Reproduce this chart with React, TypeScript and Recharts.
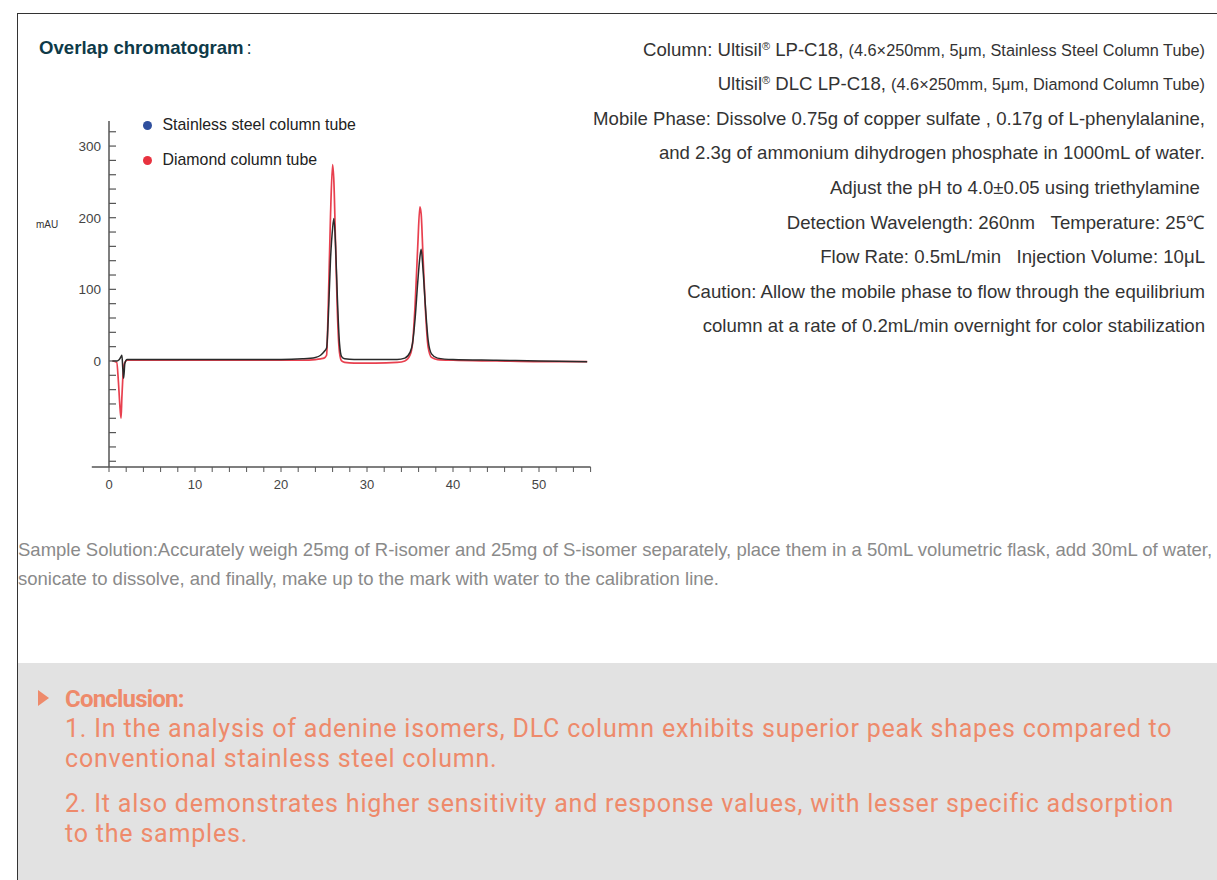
import { Legend, Line, LineChart, ReferenceLine, XAxis, YAxis } from "recharts";

const time = [
  0.4, 0.9, 1.1, 1.25, 1.4, 1.5, 1.6, 1.7, 1.85, 2.1, 3, 6, 10, 15, 20, 22.5, 24, 24.6, 25.0, 25.3,
  25.5, 25.75, 26.0, 26.15, 26.35, 26.55, 26.8, 27.05, 27.4, 28.5, 31, 33.5, 34.4, 35.0, 35.3, 35.6,
  35.9, 36.15, 36.3, 36.5, 36.8, 37.1, 37.5, 38.2, 40, 45, 50, 55.6,
];
const steel = [
  0, 0, 1, 3, 6, 8, -10, -24, -3, 2, 2, 2, 2, 2, 2, 3, 5, 8, 13, 18, 60, 140, 185, 199, 160, 90, 25,
  6, 3, 2, 2, 2, 4, 12, 25, 60, 110, 145, 156, 130, 75, 30, 10, 4, 2, 1, 0, -1,
];
const diamond = [
  0, -2, -30, -60, -80, -50, -25, -8, -2, 1, 1, 1, 1, 1, 1, 1, 2, 3, 4, 8, 80, 200, 274, 250, 160,
  70, 12, 0, -2, -3, -3, -2, 0, 8, 25, 80, 160, 215, 205, 150, 70, 20, 5, 2, 1, 0, -1, -1,
];

const xTicks = [0, 2, 4, 6, 8, 10, 12, 14, 16, 18, 20, 22, 24, 26, 28, 30, 32, 34, 36, 38, 40, 42, 44, 46, 48, 50, 52, 54, 56];
const xLabels = [0, 10, 20, 30, 40, 50];
const yTicks = [-140, -120, -100, -80, -60, -40, -20, 0, 20, 40, 60, 80, 100, 120, 140, 160, 180, 200, 220, 240, 260, 280, 300, 320];
const yLabels = [0, 100, 200, 300];

const legendItems = [
  { name: "Stainless steel column tube", color: "#2f4f9e" },
  { name: "Diamond column tube", color: "#e8323f" },
];

const rightLines = [
  "Mobile Phase: Dissolve 0.75g of copper sulfate , 0.17g of L-phenylalanine,",
  "and 2.3g of ammonium dihydrogen phosphate in 1000mL of water.",
  "Adjust the pH to 4.0±0.05 using triethylamine\u00a0",
  "Detection Wavelength: 260nm\u00a0\u00a0\u00a0Temperature: 25℃",
  "Flow Rate: 0.5mL/min\u00a0\u00a0\u00a0Injection Volume: 10μL",
  "Caution: Allow the mobile phase to flow through the equilibrium",
  "column at a rate of 0.2mL/min overnight for color stabilization",
];

const data = time.map((t, i) => ({ t, steel: steel[i], diamond: diamond[i] }));

const SANS = "'Liberation Sans', Arial, sans-serif";
const ORANGE = "#ee8a6b";

function Reg() {
  return <span style={{ fontSize: 11, position: "relative", top: -6, lineHeight: 0 }}>®</span>;
}

function ChromLegend() {
  return (
    <div style={{ fontFamily: SANS }}>
      {legendItems.map((it) => (
        <div key={it.name} style={{ display: "flex", alignItems: "center", height: 35 }}>
          <span
            style={{ width: 9, height: 9, borderRadius: "50%", background: it.color, marginRight: 11 }}
          />
          <span style={{ fontSize: 15.9, color: "#222" }}>{it.name}</span>
        </div>
      ))}
    </div>
  );
}

function Chromatogram() {
  return (
    <LineChart width={590} height={420} data={data} margin={{ top: 21, right: 19.4, bottom: 23, left: 29 }}>
      <XAxis
        dataKey="t"
        type="number"
        domain={[0, 56]}
        ticks={xTicks}
        interval={0}
        height={30}
        tickSize={5}
        tickMargin={8}
        tickFormatter={(v) => (xLabels.includes(v) ? String(v) : "")}
        tick={{ fill: "#444", fontSize: 13, fontFamily: SANS }}
        axisLine={{ stroke: "#555", strokeWidth: 1.5 }}
        tickLine={{ stroke: "#555" }}
      />
      {/* negative tickSize puts the minor ticks inside the plot, tickMargin pulls the labels back out */}
      <YAxis
        type="number"
        domain={[-148, 335]}
        ticks={yTicks}
        interval={0}
        width={60}
        tickSize={-7}
        tickMargin={15}
        tickFormatter={(v) => (yLabels.includes(v) ? String(v) : "")}
        axisLine={{ stroke: "#555", strokeWidth: 1.5 }}
        tickLine={{ stroke: "#555", strokeWidth: 1.2 }}
        tick={{ fill: "#444", fontSize: 13.5, fontFamily: SANS }}
      />
      <ReferenceLine
        segment={[
          { x: -2, y: -148 },
          { x: 0, y: -148 },
        ]}
        stroke="#555"
        strokeWidth={1.5}
        ifOverflow="visible"
      />
      <Legend
        layout="vertical"
        align="center"
        verticalAlign="middle"
        content={() => <ChromLegend />}
        wrapperStyle={{ position: "absolute", left: 122.5, top: 7.5, width: 280 }}
      />
      <Line
        type="monotone"
        dataKey="diamond"
        stroke="#e8404f"
        strokeWidth={1.7}
        dot={false}
        isAnimationActive={false}
      />
      <Line
        type="monotone"
        dataKey="steel"
        stroke="#2a2a2a"
        strokeWidth={1.5}
        dot={false}
        isAnimationActive={false}
      />
    </LineChart>
  );
}

export default function App() {
  return (
    <div
      style={{
        position: "absolute",
        left: 0,
        top: 0,
        width: 1217,
        height: 880,
        overflow: "hidden",
        background: "#fff",
        fontFamily: SANS,
      }}
    >
      <div
        style={{
          position: "absolute",
          left: 17,
          top: 13,
          width: 1300,
          height: 1000,
          border: "1px solid #333",
        }}
      />
      <div
        style={{
          position: "absolute",
          left: 39,
          top: 36,
          lineHeight: "24px",
          fontSize: 18.6,
          fontWeight: 700,
          color: "#0e3a48",
          whiteSpace: "nowrap",
        }}
      >
        Overlap chromatogram<span style={{ fontWeight: 400, marginLeft: 3 }}>:</span>
      </div>

      <div
        style={{
          position: "absolute",
          left: 300,
          top: 32.7,
          width: 905,
          textAlign: "right",
          fontSize: 18.6,
          lineHeight: "34.6px",
          color: "#333",
          whiteSpace: "nowrap",
        }}
      >
        <div>
          Column: Ultisil<Reg /> LP-C18,{" "}
          <span style={{ fontSize: 16.3 }}>(4.6×250mm, 5μm, Stainless Steel Column Tube)</span>
        </div>
        <div>
          Ultisil<Reg /> DLC LP-C18,{" "}
          <span style={{ fontSize: 16.3 }}>(4.6×250mm, 5μm, Diamond Column Tube)</span>
        </div>
        {rightLines.map((l) => (
          <div key={l}>{l}</div>
        ))}
      </div>

      <div
        style={{
          position: "absolute",
          left: 36,
          top: 219,
          fontSize: 10,
          lineHeight: "12px",
          color: "#333",
        }}
      >
        mAU
      </div>

      <div style={{ position: "absolute", left: 20, top: 100 }}>
        <Chromatogram />
      </div>

      <div
        style={{
          position: "absolute",
          left: 18,
          top: 535,
          fontSize: 18.5,
          lineHeight: "29px",
          color: "#8a8a8a",
          whiteSpace: "nowrap",
        }}
      >
        <div>
          Sample Solution:Accurately weigh 25mg of R-isomer and 25mg of S-isomer separately, place them in
          a 50mL volumetric flask, add 30mL of water,
        </div>
        <div>sonicate to dissolve, and finally, make up to the mark with water to the calibration line.</div>
      </div>

      <div
        style={{
          position: "absolute",
          left: 18,
          top: 663,
          width: 1199,
          height: 217,
          background: "#e2e2e2",
        }}
      >
        <div
          style={{
            position: "absolute",
            left: 20,
            top: 27,
            width: 0,
            height: 0,
            borderTop: "8px solid transparent",
            borderBottom: "8px solid transparent",
            borderLeft: `11px solid ${ORANGE}`,
          }}
        />
        <div
          style={{
            position: "absolute",
            left: 47,
            top: 21,
            color: ORANGE,
            fontFamily: "Roboto, sans-serif",
            fontSize: 25,
            letterSpacing: 0.8,
            lineHeight: "30px",
            width: 1140,
          }}
        >
          <div style={{ fontWeight: 700, fontSize: 24, letterSpacing: -0.8 }}>Conclusion:</div>
          <div>
            1. In the analysis of adenine isomers, DLC column exhibits superior peak shapes compared to
            conventional stainless steel column.
          </div>
          <div style={{ marginTop: 15 }}>
            2. It also demonstrates higher sensitivity and response values, with lesser specific adsorption
            to the samples.
          </div>
        </div>
      </div>
    </div>
  );
}
